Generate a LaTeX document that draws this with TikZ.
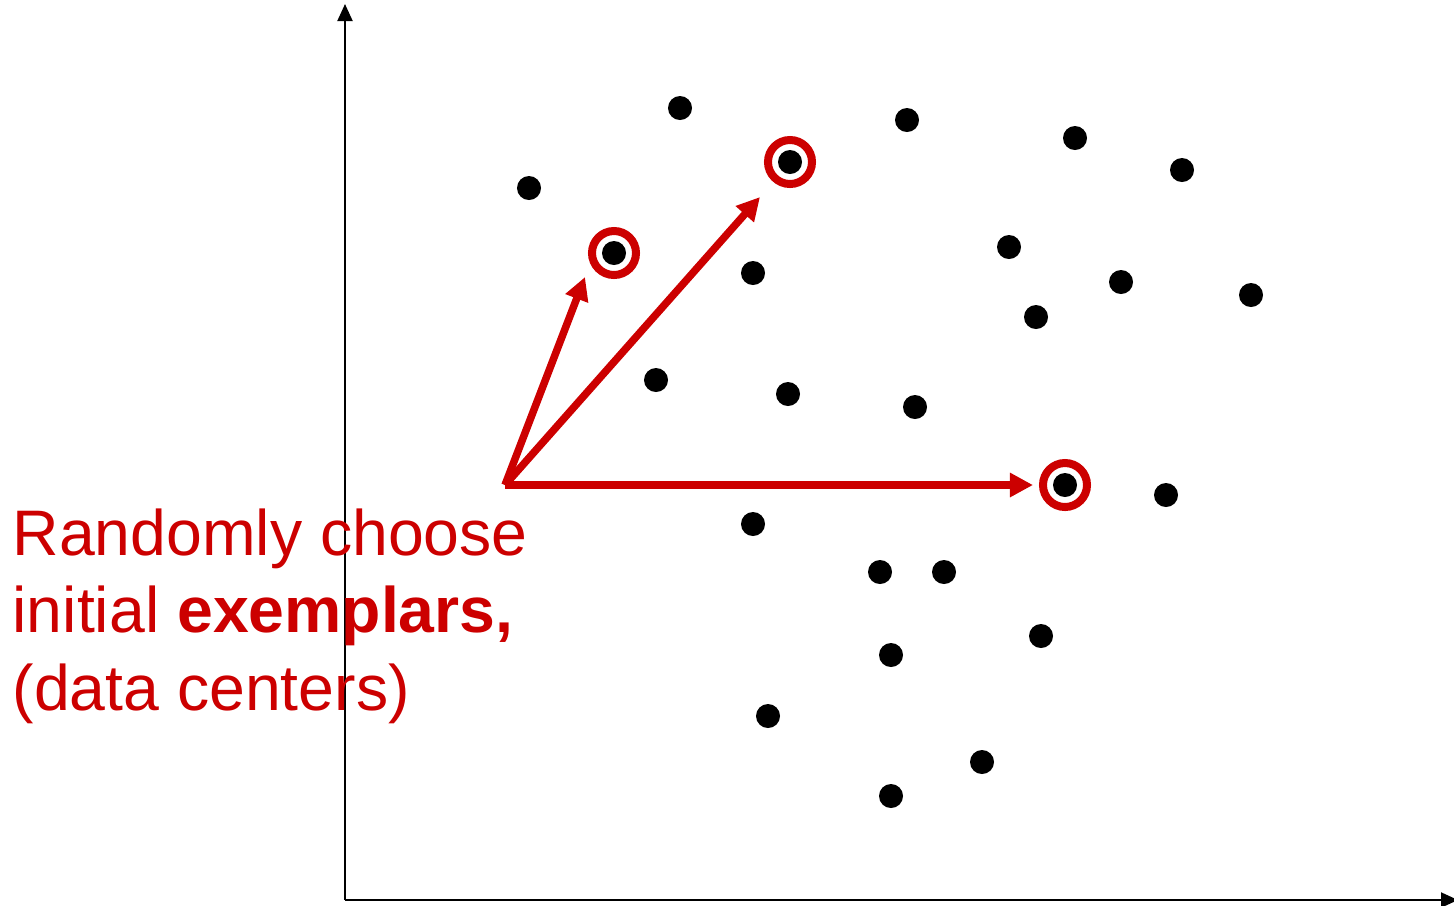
\documentclass[tikz,border=0pt]{standalone}
\usepackage{fontspec}
\setmainfont{Liberation Sans}
\usetikzlibrary{arrows.meta}
\definecolor{exred}{RGB}{204,0,0}
\tikzset{
  datadot/.style={circle, fill=black, inner sep=0pt, minimum size=0.24cm},
  exring/.style={circle, draw=exred, line width=0.08cm, inner sep=0pt, minimum size=0.44cm},
  exarrow/.style={exred, line width=0.075cm, -{Triangle[length=0.23cm,width=0.23cm]}},
  axisline/.style={line width=0.02cm, -{Triangle[length=0.17cm,width=0.15cm]}},
  remark/.style={exred, align=left, inner sep=0pt, font=\fontsize{18.3}{22}\selectfont}
}

\begin{document}
\begin{tikzpicture}[x=0.01cm, y=-0.01cm]
    \useasboundingbox (0,0) rectangle (1454,905);

    % --- 1. axes ---
    \coordinate (O) at (345,900);
    \coordinate (Ytop) at (345,4);
    \coordinate (Xend) at (1458,900);
    \draw[axisline] (O) -- (Ytop);
    \draw[axisline] (O) -- (Xend);

    % --- 2. data points ---
    \foreach \name/\px/\py in {d1/680/108, d2/907/120, d3/1075/138, d4/1182/170,
        d5/529/188, d6/753/273, d7/1009/247, d8/1121/282, d9/1036/317,
        d10/1251/295, d11/656/380, d12/788/394, d13/915/407, d14/1166/495,
        d15/753/524, d16/880/572, d17/944/572, d18/1041/636, d19/891/655,
        d20/768/716, d21/982/762, d22/891/796}
        \node[datadot] (\name) at (\px,\py) {};

    % --- 3. exemplars (circled points) ---
    \node[datadot] (E1) at (614,253) {};
    \node[datadot] (E2) at (790,162) {};
    \node[datadot] (E3) at (1065,485) {};
    \node[exring] (R1) at (E1) {};
    \node[exring] (R2) at (E2) {};
    \node[exring] (R3) at (E3) {};

    % --- 4. arrows from the start point ---
    \coordinate (S) at (505,485);
    \coordinate (T1) at (585,277);
    \coordinate (T2) at (760,197);
    \coordinate (T3) at (1033,485);
    \draw[exarrow] (S) -- (T1);
    \draw[exarrow] (S) -- (T2);
    \draw[exarrow] (S) -- (T3);

    % --- 5. label ---
    \node[remark, anchor=base west] (T) at (12,710)
        {Randomly choose\\initial \textbf{exemplars,}\\(data centers)};
\end{tikzpicture}
\end{document}
